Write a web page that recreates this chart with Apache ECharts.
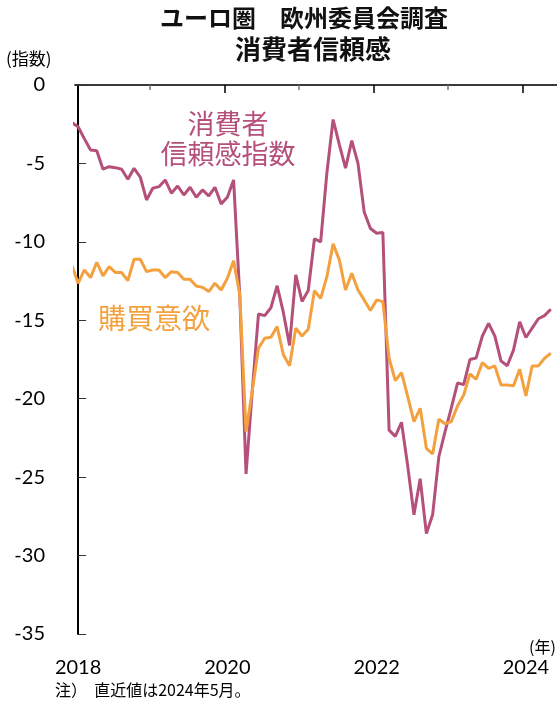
<!DOCTYPE html>
<html>
<head>
<meta charset="utf-8">
<script src="https://cdn.jsdelivr.net/npm/echarts@6/dist/echarts.min.js"></script>
<style>html,body{margin:0;padding:0;background:#fff;}#c{width:557px;height:709px;}</style>
</head>
<body>
<div id="c"></div>
<script>
// Months: Dec 2017 (partly outside the axis) to May 2024
const months = [];
for (let y = 2017; y <= 2024; y++) {
  for (let m = 1; m <= 12; m++) {
    if ((y === 2017 && m < 12) || (y === 2024 && m > 5)) continue;
    months.push(y + '-' + String(m).padStart(2, '0'));
  }
}
// 消費者信頼感指数
const confidence = [
  -2.4,
  -2.66, -3.42, -4.14, -4.19, -5.37, -5.21, -5.27, -5.37, -6.01, -5.31, -5.88, -7.33,
  -6.58, -6.48, -6.05, -6.90, -6.44, -7.01, -6.52, -7.16, -6.69, -7.07, -6.52, -7.58,
  -7.16, -6.05, -13.5, -24.8, -19.5, -14.6, -14.7, -14.2, -12.8, -14.5, -16.6, -12.1,
  -13.8, -13.1, -9.8, -10.0, -5.6, -2.2, -3.8, -5.3, -3.55, -5.0, -8.1, -9.15,
  -9.45, -9.4, -22.0, -22.4, -21.5, -24.3, -27.4, -25.1, -28.6, -27.4, -23.7, -22.1,
  -20.6, -19.0, -19.1, -17.5, -17.4, -16.0, -15.2, -16.0, -17.6, -17.9, -16.9, -15.1,
  -16.1, -15.5, -14.9, -14.7, -14.3
];
// 購買意欲
const purchase = [
  -11.5,
  -12.64, -11.79, -12.28, -11.30, -12.17, -11.58, -11.96, -11.96, -12.47, -11.11, -11.11, -11.90,
  -11.79, -11.79, -12.28, -11.90, -11.96, -12.39, -12.39, -12.81, -12.90, -13.17, -12.64, -13.07,
  -12.32, -11.20, -13.38, -22.1, -19.5, -16.78, -16.15, -16.08, -15.4, -17.2, -17.9, -15.51,
  -16.0, -15.57, -13.11, -13.6, -12.22, -10.13, -11.15, -13.07, -12.0, -13.07, -13.7, -14.38,
  -13.7, -13.81, -17.42, -18.85, -18.34, -19.87, -21.46, -20.61, -23.16, -23.52, -21.31, -21.6,
  -21.46, -20.46, -19.76, -18.42, -18.76, -17.7, -18.06, -17.91, -19.12, -19.12, -19.18, -18.12,
  -19.82, -17.91, -17.91, -17.42, -17.1
];
const yearLabels = ['2018', '2020', '2022', '2024'];
const yTicks = [0, -5, -10, -15, -20, -25, -30, -35];

// month offset from Jan 2018
function pos(m) { const [y, mo] = m.split('-').map(Number); return (y - 2018) * 12 + (mo - 1); }
const labelPos = yearLabels.map(y => pos(y + '-01'));
const majorTicks = yearLabels.slice(1).map(y => pos(y + '-01') - 0.5);
const minorTicks = ['2019', '2021', '2023'].map(y => pos(y + '-01') - 0.5);

const MAG = '#b5507a', ORA = '#f3a13f';
const FONT = 'Lato, "Noto Sans CJK JP", sans-serif';
const JP = '"Noto Sans CJK JP", sans-serif';

const chart = echarts.init(document.getElementById('c'), null, {renderer: 'canvas'});
const xBase = {type: 'value', min: -0.5, max: 77, splitLine: {show: false}};
chart.setOption({
  animation: false,
  grid: {left: 75, right: 0, top: 85, bottom: 75, containLabel: false},
  xAxis: [
    Object.assign({}, xBase, {
      position: 'bottom',
      axisLine: {show: true, lineStyle: {color: '#222', width: 1.5}},
      axisTick: {show: false},
      axisLabel: {customValues: labelPos, formatter: v => String(2018 + v / 12),
        fontSize: 20, color: '#000', fontFamily: FONT, margin: 24}
    }),
    Object.assign({}, xBase, {
      position: 'top',
      axisLine: {show: true, lineStyle: {color: '#333', width: 1.5}},
      axisTick: {show: true, inside: true, length: 8, customValues: majorTicks, lineStyle: {color: '#000', width: 1.5}},
      axisLabel: {show: false}
    }),
    Object.assign({}, xBase, {
      position: 'top',
      axisLine: {show: false},
      axisTick: {show: true, inside: true, length: 5, customValues: minorTicks, lineStyle: {color: '#777', width: 1.5}},
      axisLabel: {show: false}
    })
  ],
  yAxis: {
    type: 'value', min: -35, max: 0, interval: 5,
    axisLine: {show: true, lineStyle: {color: '#000', width: 2}},
    axisTick: {show: true, inside: true, length: 8, lineStyle: {color: '#333', width: 1}},
    axisLabel: {fontSize: 20, color: '#000', fontFamily: FONT, margin: 30},
    splitLine: {show: false}
  },
  series: [
    {name: '消費者信頼感指数', type: 'line', xAxisIndex: 0, showSymbol: false, clip: true,
      lineStyle: {color: MAG, width: 3}, data: months.map((m, i) => [pos(m), confidence[i]])},
    {name: '購買意欲', type: 'line', xAxisIndex: 0, showSymbol: false, clip: true,
      lineStyle: {color: ORA, width: 3}, data: months.map((m, i) => [pos(m), purchase[i]])}
  ],
  graphic: [
    {type: 'text', x: 304, y: 6, style: {text: 'ユーロ圏　欧州委員会調査', textAlign: 'center',
      font: 'bold 24px ' + JP, fill: '#111'}},
    {type: 'text', x: 313, y: 36, style: {text: '消費者信頼感', textAlign: 'center',
      font: 'bold 26px ' + JP, fill: '#111'}},
    {type: 'text', x: 6, y: 50, style: {text: '(指数)', font: '17px ' + JP, fill: '#000'}},
    {type: 'text', x: 228, y: 109, style: {text: '消費者\n信頼感指数', textAlign: 'center',
      font: '27px ' + JP, lineHeight: 30, fill: MAG}},
    {type: 'text', x: 98, y: 304, style: {text: '購買意欲', font: '28px ' + JP, fill: ORA}},
    {type: 'text', x: 529, y: 639, style: {text: '(年)', font: '16px ' + JP, fill: '#000'}},
    {type: 'text', x: 55, y: 682, style: {text: '注）  直近値は2024年5月。', font: '16px ' + JP, fill: '#000'}}
  ]
});
</script>
</body>
</html>
